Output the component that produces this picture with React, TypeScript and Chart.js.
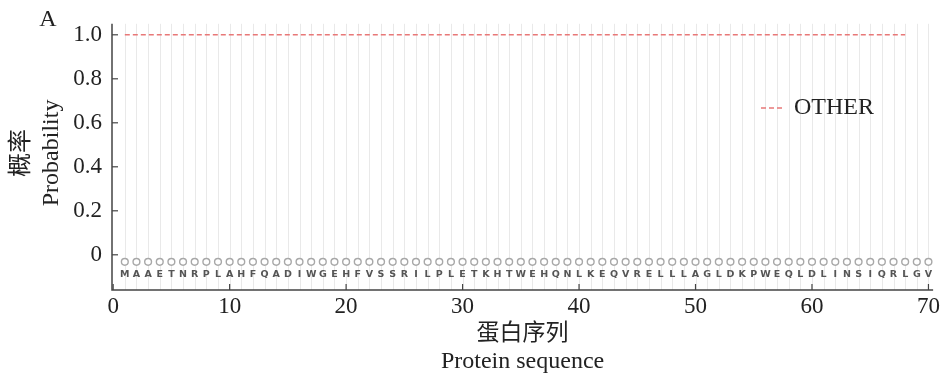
import React, { useEffect, useRef } from "react";
import { Chart, registerables } from "chart.js";

Chart.register(...registerables);

const residues = "MAAETNRPLAHFQADIWGEHFVSSRILPLETKHTWEHQNLKEQVRELLLAGLDKPWEQLDLINSIQRLGV".split("");
const otherProbability = [
  1, 1, 1, 1, 1, 1, 1, 1, 1, 1, 1, 1, 1, 1, 1, 1, 1, 1, 1, 1,
  1, 1, 1, 1, 1, 1, 1, 1, 1, 1, 1, 1, 1, 1, 1, 1, 1, 1, 1, 1,
  1, 1, 1, 1, 1, 1, 1, 1, 1, 1, 1, 1, 1, 1, 1, 1, 1, 1, 1, 1,
  1, 1, 1, 1, 1, 1, 1, 1,
];
const xTicks = [0, 10, 20, 30, 40, 50, 60, 70];
const yTicks = [0, 0.2, 0.4, 0.6, 0.8, 1.0];
const seriesName = "OTHER";
const panelLabel = "A";
const xTitle = ["蛋白序列", "Protein sequence"];
const yTitle = ["概率", "Probability"];

const SERIF = '"Liberation Serif", "Times New Roman", "Noto Sans CJK SC", serif';
const LINE_COLOR = "#e87878";
const AXIS_COLOR = "#444";

export default function App() {
  const ref = useRef<HTMLCanvasElement | null>(null);

  useEffect(() => {
    if (!ref.current) return;
    const markerY = -0.032;
    const letterY = -0.09;

    const custom = {
      id: "custom",
      beforeDatasetsDraw(chart: any) {
        const { ctx, chartArea, scales } = chart;
        ctx.save();
        ctx.strokeStyle = "#e9e9e9";
        ctx.lineWidth = 1;
        residues.forEach((_, i) => {
          const x = Math.round(scales.x.getPixelForValue(i + 1)) + 0.5;
          ctx.beginPath();
          ctx.moveTo(x, chartArea.top);
          ctx.lineTo(x, chartArea.bottom);
          ctx.stroke();
        });
        ctx.restore();
      },
      afterDatasetsDraw(chart: any) {
        const { ctx, chartArea, scales } = chart;
        ctx.save();
        // residue letters
        ctx.fillStyle = "#555";
        ctx.font = 'bold 9.5px "DejaVu Sans", sans-serif';
        ctx.textAlign = "center";
        ctx.textBaseline = "middle";
        const ly = scales.y.getPixelForValue(letterY);
        residues.forEach((r, i) => {
          ctx.fillText(r, scales.x.getPixelForValue(i + 1), ly);
        });
        // axes
        ctx.strokeStyle = AXIS_COLOR;
        ctx.lineWidth = 1.5;
        ctx.beginPath();
        ctx.moveTo(chartArea.left, chartArea.top);
        ctx.lineTo(chartArea.left, chartArea.bottom);
        ctx.lineTo(chartArea.right, chartArea.bottom);
        ctx.stroke();
        ctx.lineWidth = 1.2;
        xTicks.forEach((t) => {
          const x = scales.x.getPixelForValue(t);
          ctx.beginPath();
          ctx.moveTo(x, chartArea.bottom);
          ctx.lineTo(x, chartArea.bottom - 6);
          ctx.stroke();
        });
        yTicks.forEach((t) => {
          const y = scales.y.getPixelForValue(t);
          ctx.beginPath();
          ctx.moveTo(chartArea.left, y);
          ctx.lineTo(chartArea.left + 6, y);
          ctx.stroke();
        });
        // legend
        ctx.strokeStyle = LINE_COLOR;
        ctx.lineWidth = 1.5;
        ctx.setLineDash([5, 3]);
        ctx.beginPath();
        ctx.moveTo(761, 108);
        ctx.lineTo(785, 108);
        ctx.stroke();
        ctx.setLineDash([]);
        ctx.fillStyle = "#222";
        ctx.font = `24px ${SERIF}`;
        ctx.textAlign = "left";
        ctx.textBaseline = "middle";
        ctx.fillText(seriesName, 794, 108);
        // panel label
        ctx.textAlign = "center";
        ctx.fillText(panelLabel, 48, 20);
        // x title
        const cx = (chartArea.left + chartArea.right) / 2;
        ctx.font = `23px ${SERIF}`;
        ctx.fillText(xTitle[0], cx, 334);
        ctx.font = `24px ${SERIF}`;
        ctx.fillText(xTitle[1], cx, 362);
        // y title
        const cy = (chartArea.top + chartArea.bottom) / 2 - 4;
        ctx.save();
        ctx.translate(22, cy);
        ctx.rotate(-Math.PI / 2);
        ctx.fillText(yTitle[0], 0, 0);
        ctx.restore();
        ctx.save();
        ctx.translate(52, cy);
        ctx.rotate(-Math.PI / 2);
        ctx.fillText(yTitle[1], 0, 0);
        ctx.restore();
        ctx.restore();
      },
    };

    const chart = new Chart(ref.current, {
      type: "scatter",
      data: {
        datasets: [
          {
            label: seriesName,
            data: otherProbability.map((v, i) => ({ x: i + 1, y: v })),
            showLine: true,
            borderColor: LINE_COLOR,
            borderWidth: 1.5,
            borderDash: [5, 3],
            pointRadius: 0,
            fill: false,
          },
          {
            label: "markers",
            data: residues.map((_, i) => ({ x: i + 1, y: markerY })),
            showLine: false,
            pointRadius: 3.4,
            pointBorderColor: "#a8a8a8",
            pointBackgroundColor: "rgba(255,255,255,1)",
            pointBorderWidth: 1.4,
          },
        ],
      },
      options: {
        animation: false,
        responsive: false,
        maintainAspectRatio: false,
        layout: { padding: { left: 0, right: 8, top: 22, bottom: 0 } },
        plugins: { legend: { display: false }, tooltip: { enabled: false } },
        scales: {
          x: {
            type: "linear",
            min: -0.1,
            max: 70.4,
            afterBuildTicks: (s: any) => {
              s.ticks = xTicks.map((v) => ({ value: v }));
            },
            afterFit: (s: any) => {
              s.height = 84;
            },
            grid: { display: false, drawTicks: false },
            border: { display: false },
            ticks: {
              padding: 3,
              color: "#222",
              font: { family: SERIF, size: 23 },
              maxRotation: 0,
              autoSkip: false,
            },
          },
          y: {
            type: "linear",
            min: -0.16,
            max: 1.05,
            afterBuildTicks: (s: any) => {
              s.ticks = yTicks.map((v) => ({ value: v }));
            },
            afterFit: (s: any) => {
              s.width = 112;
            },
            grid: { display: false, drawTicks: false },
            border: { display: false },
            ticks: {
              padding: 10,
              color: "#222",
              font: { family: SERIF, size: 23 },
              autoSkip: false,
              callback: (v: any) => (Number(v) === 0 ? "0" : Number(v).toFixed(1)),
            },
          },
        },
      },
      plugins: [custom],
    });
    return () => chart.destroy();
  }, []);

  return (
    <div style={{ position: "absolute", left: 0, top: 0, width: 943, height: 374, background: "#fff" }}>
      <canvas ref={ref} width={943} height={374} style={{ width: 943, height: 374 }} />
    </div>
  );
}
